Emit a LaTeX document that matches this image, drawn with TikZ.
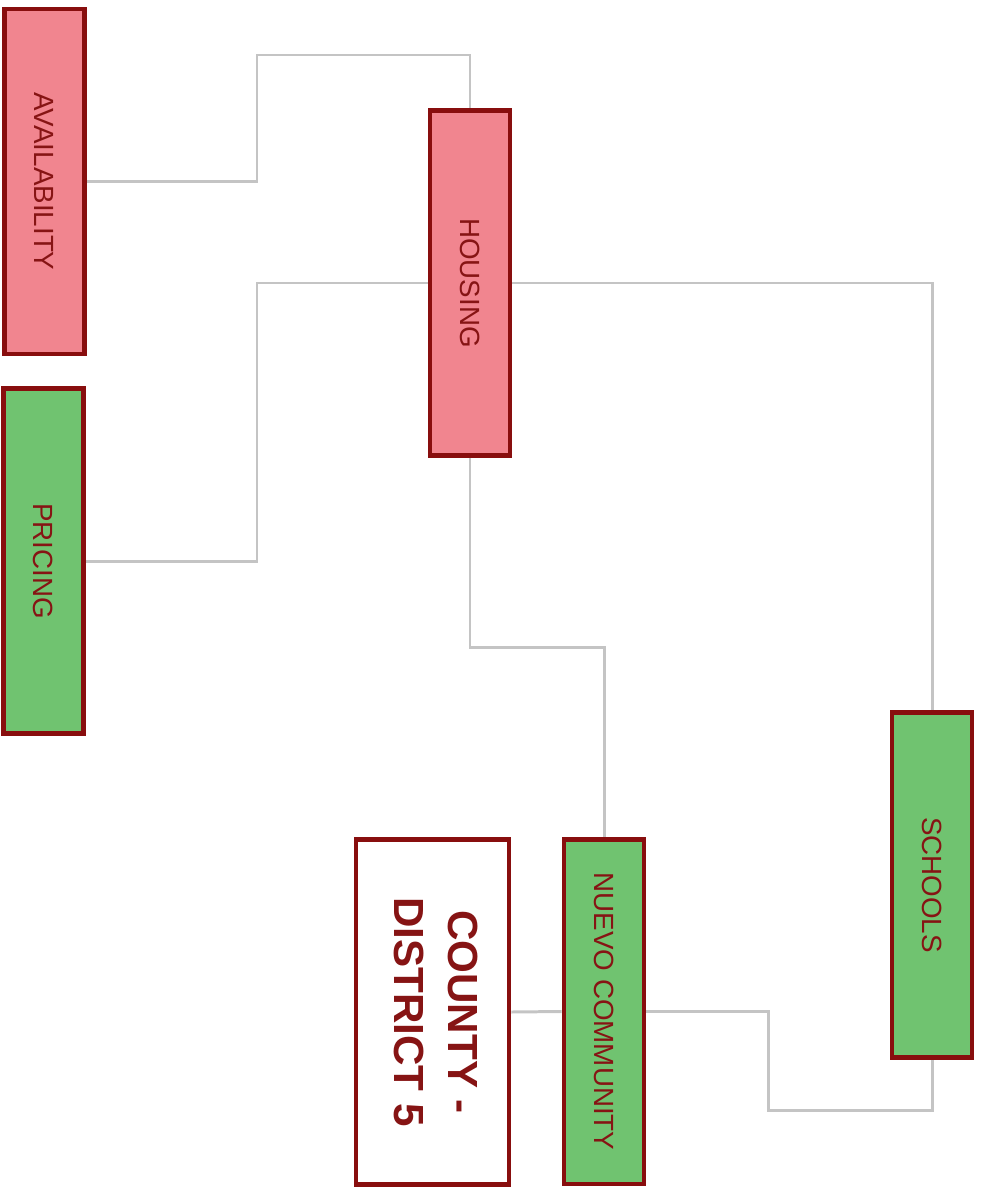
\documentclass[tikz,border=0pt]{standalone}
\usepackage{fontspec}
\setmainfont{Liberation Sans}
\usepackage{graphicx}
\usepackage{xcolor}
\usetikzlibrary{positioning,calc}

\definecolor{boxred}{HTML}{880E0E}
\definecolor{txtred}{HTML}{861414}
\definecolor{pinkfill}{HTML}{F1858F}
\definecolor{greenfill}{HTML}{70C370}
\definecolor{linkgray}{HTML}{C4C4C4}
\newcommand{\vlabel}[1]{\rotatebox{-90}{#1}}

\begin{document}
\begin{tikzpicture}[x=0.02cm, y=-0.02cm,
  box/.style={draw=boxred, line width=2.8pt, minimum width=1.6cm, minimum height=6.9cm,
    inner sep=0pt, text=txtred, font=\fontsize{15.8}{18}\selectfont},
  pinkbox/.style={box, fill=pinkfill},
  greenbox/.style={box, fill=greenfill},
  link/.style={draw=linkgray, line width=1.7pt}]
\useasboundingbox (0,0) rectangle (984,1190);
\node[pinkbox] (avail) at (44.5,181.5) {\vlabel{AVAILABILITY}};
\node[greenbox] (pricing) at (43.5,561) {\vlabel{PRICING}};
\node[pinkbox] (housing) at (470,283) {\vlabel{HOUSING}};
\node[greenbox] (schools) at (932,885) {\vlabel{SCHOOLS}};
\node[greenbox] (nuevo) at (604,1011.5) {\vlabel{NUEVO COMMUNITY}};
\node[box, fill=white, minimum width=3.06cm, font=\bfseries\fontsize{24}{31}\selectfont]
  (county) at (432.5,1012) {\vlabel{\begin{tabular}{@{}c@{}}COUNTY -\\DISTRICT 5\end{tabular}}};
% joints
\coordinate (j1) at (257,55);
\coordinate (j2) at (257,283);
\coordinate (j3) at (470,647);
\coordinate (j4) at (768,1110);
\draw[link] (avail.east) -| (j1) -| (housing.north);
\draw[link] (pricing.east) -| (j2) -- (housing.west);
\draw[link] (housing.east) -| (schools.north);
\draw[link] (housing.south) -- (j3) -| (nuevo.north);
\draw[link] (county.east) -- (nuevo.west);
\draw[link] (nuevo.east) -| (j4) -| (schools.south);
\end{tikzpicture}
\end{document}
